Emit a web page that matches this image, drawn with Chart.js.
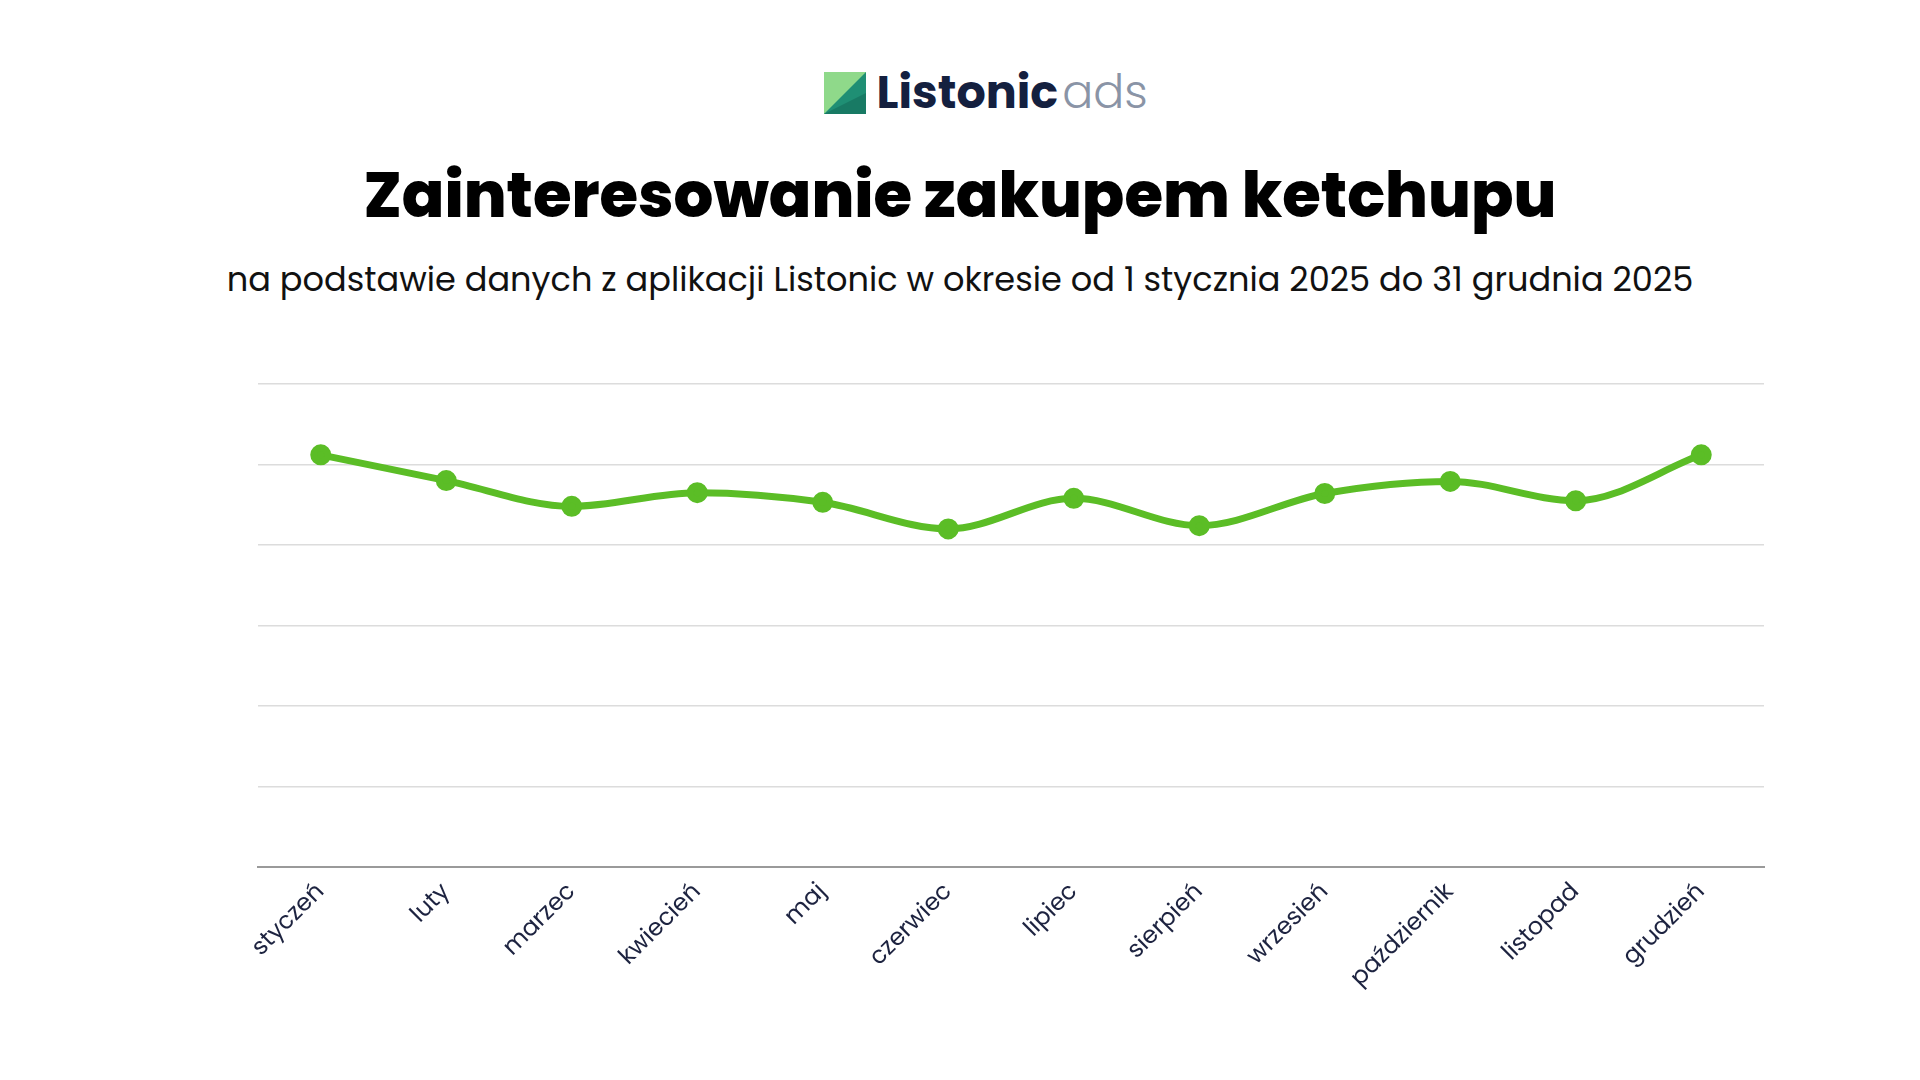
<!DOCTYPE html>
<html>
<head>
<meta charset="utf-8">
<script src="https://cdn.jsdelivr.net/npm/chart.js@4"></script>
<style>
  body { margin:0; width:1920px; height:1080px; background:#fff; font-family:"Poppins","Inter","Lato",sans-serif; overflow:hidden; }
  .logo { position:absolute; top:58px; left:26px; width:1920px; text-align:center; }
  .logo span { font-size:46px; vertical-align:middle; }
  h1 { position:absolute; top:148px; left:0; width:1920px; margin:0; text-align:center; font-size:62.6px; font-weight:800; color:#000; }
  .sub { position:absolute; top:255px; left:0; width:1920px; text-align:center; font-size:33.6px; color:#111; }
  .wrap { position:absolute; left:244px; top:370px; width:1534px; height:626px; }
</style>
</head>
<body>
<div class="logo">
  <svg width="42" height="42" viewBox="0 0 44 44" style="vertical-align:middle">
    <rect x="0" y="0" width="44" height="44" fill="#8fd98a"/>
    <polygon points="0,44 44,0 44,44" fill="#1f8f74"/>
    <polygon points="0,44 44,22 44,44" fill="#187a64"/>
  </svg>
  <span style="font-weight:700;color:#14203f;margin-left:6px">Listonic</span><span style="color:#8a94a6;font-weight:300;margin-left:4px">ads</span>
</div>
<h1>Zainteresowanie zakupem ketchupu</h1>
<div class="sub">na podstawie danych z aplikacji Listonic w okresie od 1 stycznia 2025 do 31 grudnia 2025</div>
<div class="wrap"><canvas id="chart"></canvas></div>
<script>
const months = ["styczeń","luty","marzec","kwiecień","maj","czerwiec","lipiec","sierpień","wrzesień","październik","listopad","grudzień"];
const interest = [5.12, 4.80, 4.48, 4.65, 4.53, 4.20, 4.58, 4.24, 4.64, 4.79, 4.55, 5.12];

new Chart(document.getElementById('chart'), {
  type: 'line',
  data: {
    labels: months,
    datasets: [{
      data: interest,
      borderColor: '#5bbd26',
      backgroundColor: '#5bbd26',
      borderWidth: 7,
      pointRadius: 7,
      tension: 0.4,
      cubicInterpolationMode: 'monotone'
    }]
  },
  options: {
    responsive: true,
    maintainAspectRatio: false,
    animation: false,
    plugins: { legend: { display: false }, tooltip: { enabled: false } },
    scales: {
      x: {
        offset: true,
        grid: { display: false },
        border: { color: '#9a9a9a', width: 2 },
        ticks: { color: '#1d2340', font: { family: 'Poppins, Inter, Lato, sans-serif', size: 24 }, maxRotation: 45, minRotation: 45 }
      },
      y: {
        min: 0, max: 6,
        ticks: { display: false, stepSize: 1 },
        border: { display: false },
        grid: { color: '#dcdcdc', lineWidth: 1.5, drawTicks: false }
      }
    }
  }
});
</script>
</body>
</html>
